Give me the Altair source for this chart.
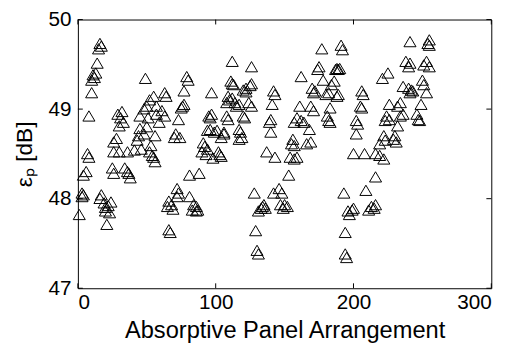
import altair as alt
import pandas as pd

arrangement = [
    1, 3, 3, 4, 4, 6, 7, 8, 8, 10, 10, 11, 12, 13, 14, 15, 16, 17, 16, 17,
    19, 20, 20, 21, 22, 23, 24, 25, 26, 26, 26, 28, 29, 30, 30, 31, 32, 33, 34, 36,
    36, 37, 38, 41, 43, 44, 45, 45, 46, 48, 48, 49, 50, 50, 51, 52, 52, 53, 54, 55,
    55, 56, 56, 57, 57, 59, 61, 63, 63, 64, 65, 66, 66, 67, 68, 69, 70, 71, 72, 72,
    73, 73, 74, 75, 76, 77, 77, 79, 80, 81, 81, 83, 84, 86, 86, 87, 88, 90, 91, 92,
    93, 94, 94, 95, 96, 96, 97, 97, 98, 99, 101, 102, 103, 104, 104, 106, 106, 108, 108, 109,
    109, 110, 111, 112, 112, 112, 113, 114, 115, 117, 117, 117, 118, 119, 120, 120, 121, 122, 122, 124,
    125, 126, 126, 126, 128, 129, 130, 131, 131, 133, 134, 135, 136, 137, 139, 140, 140, 141, 142, 142,
    143, 143, 146, 147, 148, 149, 150, 152, 153, 154, 155, 156, 157, 157, 157, 159, 159, 161, 162, 162,
    164, 166, 168, 169, 169, 170, 171, 171, 172, 174, 175, 177, 178, 180, 181, 182, 182, 183, 183, 184,
    186, 187, 188, 188, 189, 189, 190, 191, 192, 193, 194, 194, 195, 196, 197, 199, 200, 200, 202, 202,
    203, 205, 206, 206, 207, 208, 209, 211, 213, 215, 216, 216, 216, 219, 219, 221, 222, 222, 223, 223,
    224, 225, 226, 226, 229, 230, 231, 232, 232, 234, 234, 236, 236, 238, 240, 240, 241, 241, 241, 242,
    243, 246, 247, 248, 249, 250, 251, 251, 253, 253, 254, 255, 255, 255,
]

eps_p = [
    47.82, 48.02, 48.06, 48.04, 48.26, 48.30, 48.50, 48.46, 48.92, 49.18, 49.32, 49.38, 49.35, 49.40, 49.51, 49.67, 49.73, 49.70, 48.00, 48.04,
    47.95, 47.90, 47.86, 47.71, 47.92, 47.84, 47.96, 48.34, 48.28, 48.63, 48.52, 48.67, 48.94, 48.81, 48.52, 48.90, 48.97, 48.85, 48.34, 48.52,
    48.30, 48.28, 48.23, 48.54, 48.65, 48.70, 48.78, 48.92, 48.55, 49.00, 48.72, 49.34, 49.03, 48.80, 48.90, 49.10, 48.52, 48.59, 48.48, 48.46,
    49.14, 48.70, 48.41, 48.94, 49.03, 48.85, 48.98, 48.92, 49.18, 49.14, 47.91, 47.97, 47.65, 47.62, 47.93, 47.88, 48.68, 48.72, 48.11, 48.02,
    48.06, 48.88, 48.68, 49.01, 49.03, 49.05, 49.20, 49.36, 49.32, 48.26, 48.02, 47.87, 47.93, 47.91, 47.86, 47.87, 48.28, 48.52, 48.62, 48.58,
    48.49, 48.55, 48.76, 48.92, 48.90, 48.77, 48.94, 49.18, 48.45, 48.74, 48.76, 48.52, 48.49, 48.47, 48.68, 48.74, 48.72, 49.07, 48.92, 49.14,
    48.88, 49.10, 49.31, 49.53, 49.12, 49.28, 49.27, 49.07, 49.03, 49.05, 48.77, 48.66, 48.74, 48.68, 48.92, 49.21, 48.90, 49.23, 49.19, 49.07,
    49.26, 49.03, 49.28, 49.47, 48.06, 47.64, 47.42, 47.86, 47.38, 47.89, 47.91, 47.93, 47.89, 48.52, 48.85, 48.88, 48.74, 49.05, 49.20, 48.06,
    49.16, 48.46, 48.11, 47.93, 48.06, 47.89, 47.93, 47.91, 48.26, 48.46, 48.61, 48.66, 48.44, 48.85, 48.59, 48.90, 48.46, 49.03, 49.36, 48.87,
    48.85, 48.61, 48.77, 49.03, 48.63, 49.23, 49.18, 48.98, 49.20, 49.44, 49.47, 49.67, 49.32, 49.16, 48.92, 49.18, 48.87, 49.01, 48.85, 49.27,
    49.31, 49.44, 49.45, 49.14, 49.44, 49.16, 49.45, 49.71, 49.66, 48.06, 47.62, 47.38, 47.34, 47.86, 47.82, 47.87, 47.89, 48.50, 48.87, 48.72,
    48.83, 49.03, 49.01, 49.20, 49.16, 48.50, 48.09, 47.87, 47.91, 47.89, 47.93, 48.24, 48.50, 48.48, 48.61, 49.34, 48.70, 48.44, 48.65, 48.87,
    48.92, 49.40, 48.88, 49.05, 48.66, 48.70, 48.63, 48.81, 49.03, 48.92, 49.07, 48.94, 49.25, 49.53, 49.47, 49.23, 49.51, 49.75, 49.18, 49.21,
    49.20, 48.94, 48.88, 48.87, 49.05, 49.32, 49.27, 49.49, 49.18, 49.53, 49.73, 49.77, 49.71, 49.47,
]

x_ticks = [0, 100, 200, 300]
y_ticks = [47, 48, 49, 50]

df = pd.DataFrame({"arrangement": arrangement, "eps": eps_p})
xt = pd.DataFrame({"arrangement": x_ticks})
yt = pd.DataFrame({"eps": y_ticks})

W, H = 420, 273
FONT = "Liberation Sans"

xscale = alt.Scale(domain=[0, 300], nice=False, zero=False)
yscale = alt.Scale(domain=[47, 50], nice=False, zero=False)

x_axis = alt.Axis(values=x_ticks, title="Absorptive Panel Arrangement",
                  ticks=False, tickSize=0, domain=False, grid=False,
                  labelFontSize=21, labelFont=FONT, labelColor="black",
                  labelPadding=4, titleFontSize=24, titleFont=FONT,
                  titleFontWeight="normal", titleColor="black",
                  titlePadding=6)
y_axis = alt.Axis(values=y_ticks, title="εₚ [dB]",
                  ticks=False, tickSize=0, domain=False, grid=False,
                  labelFontSize=21, labelFont=FONT, labelColor="black",
                  labelPadding=7, titleFontSize=23, titleFont=FONT,
                  titleFontWeight="normal", titleColor="black",
                  titlePadding=12)

X = alt.X("arrangement:Q", scale=xscale, axis=x_axis)
Y = alt.Y("eps:Q", scale=yscale, axis=y_axis)

points = alt.Chart(df).mark_point(
    shape="M-1,0.8L0,-0.9L1,0.8Z", filled=False, color="black",
    strokeWidth=1, size=150, opacity=1
).encode(x=X, y=Y)

bottom_ticks = alt.Chart(xt).mark_rule(color="black", strokeWidth=1).encode(
    x=X, y=alt.value(H), y2=alt.value(H - 5))
top_ticks = alt.Chart(xt).mark_rule(color="black", strokeWidth=1).encode(
    x=X, y=alt.value(0), y2=alt.value(5))
left_ticks = alt.Chart(yt).mark_rule(color="black", strokeWidth=1).encode(
    y=Y, x=alt.value(0), x2=alt.value(5))
right_ticks = alt.Chart(yt).mark_rule(color="black", strokeWidth=1).encode(
    y=Y, x=alt.value(W), x2=alt.value(W - 5))

chart = alt.layer(points, bottom_ticks, top_ticks, left_ticks, right_ticks).properties(
    width=W, height=H,
    autosize=alt.AutoSizeParams(type="none"),
    padding={"left": 71, "top": 9, "right": 19, "bottom": 59},
    background="white",
).configure_view(stroke="black", strokeWidth=1)

chart.save("out.html", embed_options={"renderer": "svg", "actions": False})
